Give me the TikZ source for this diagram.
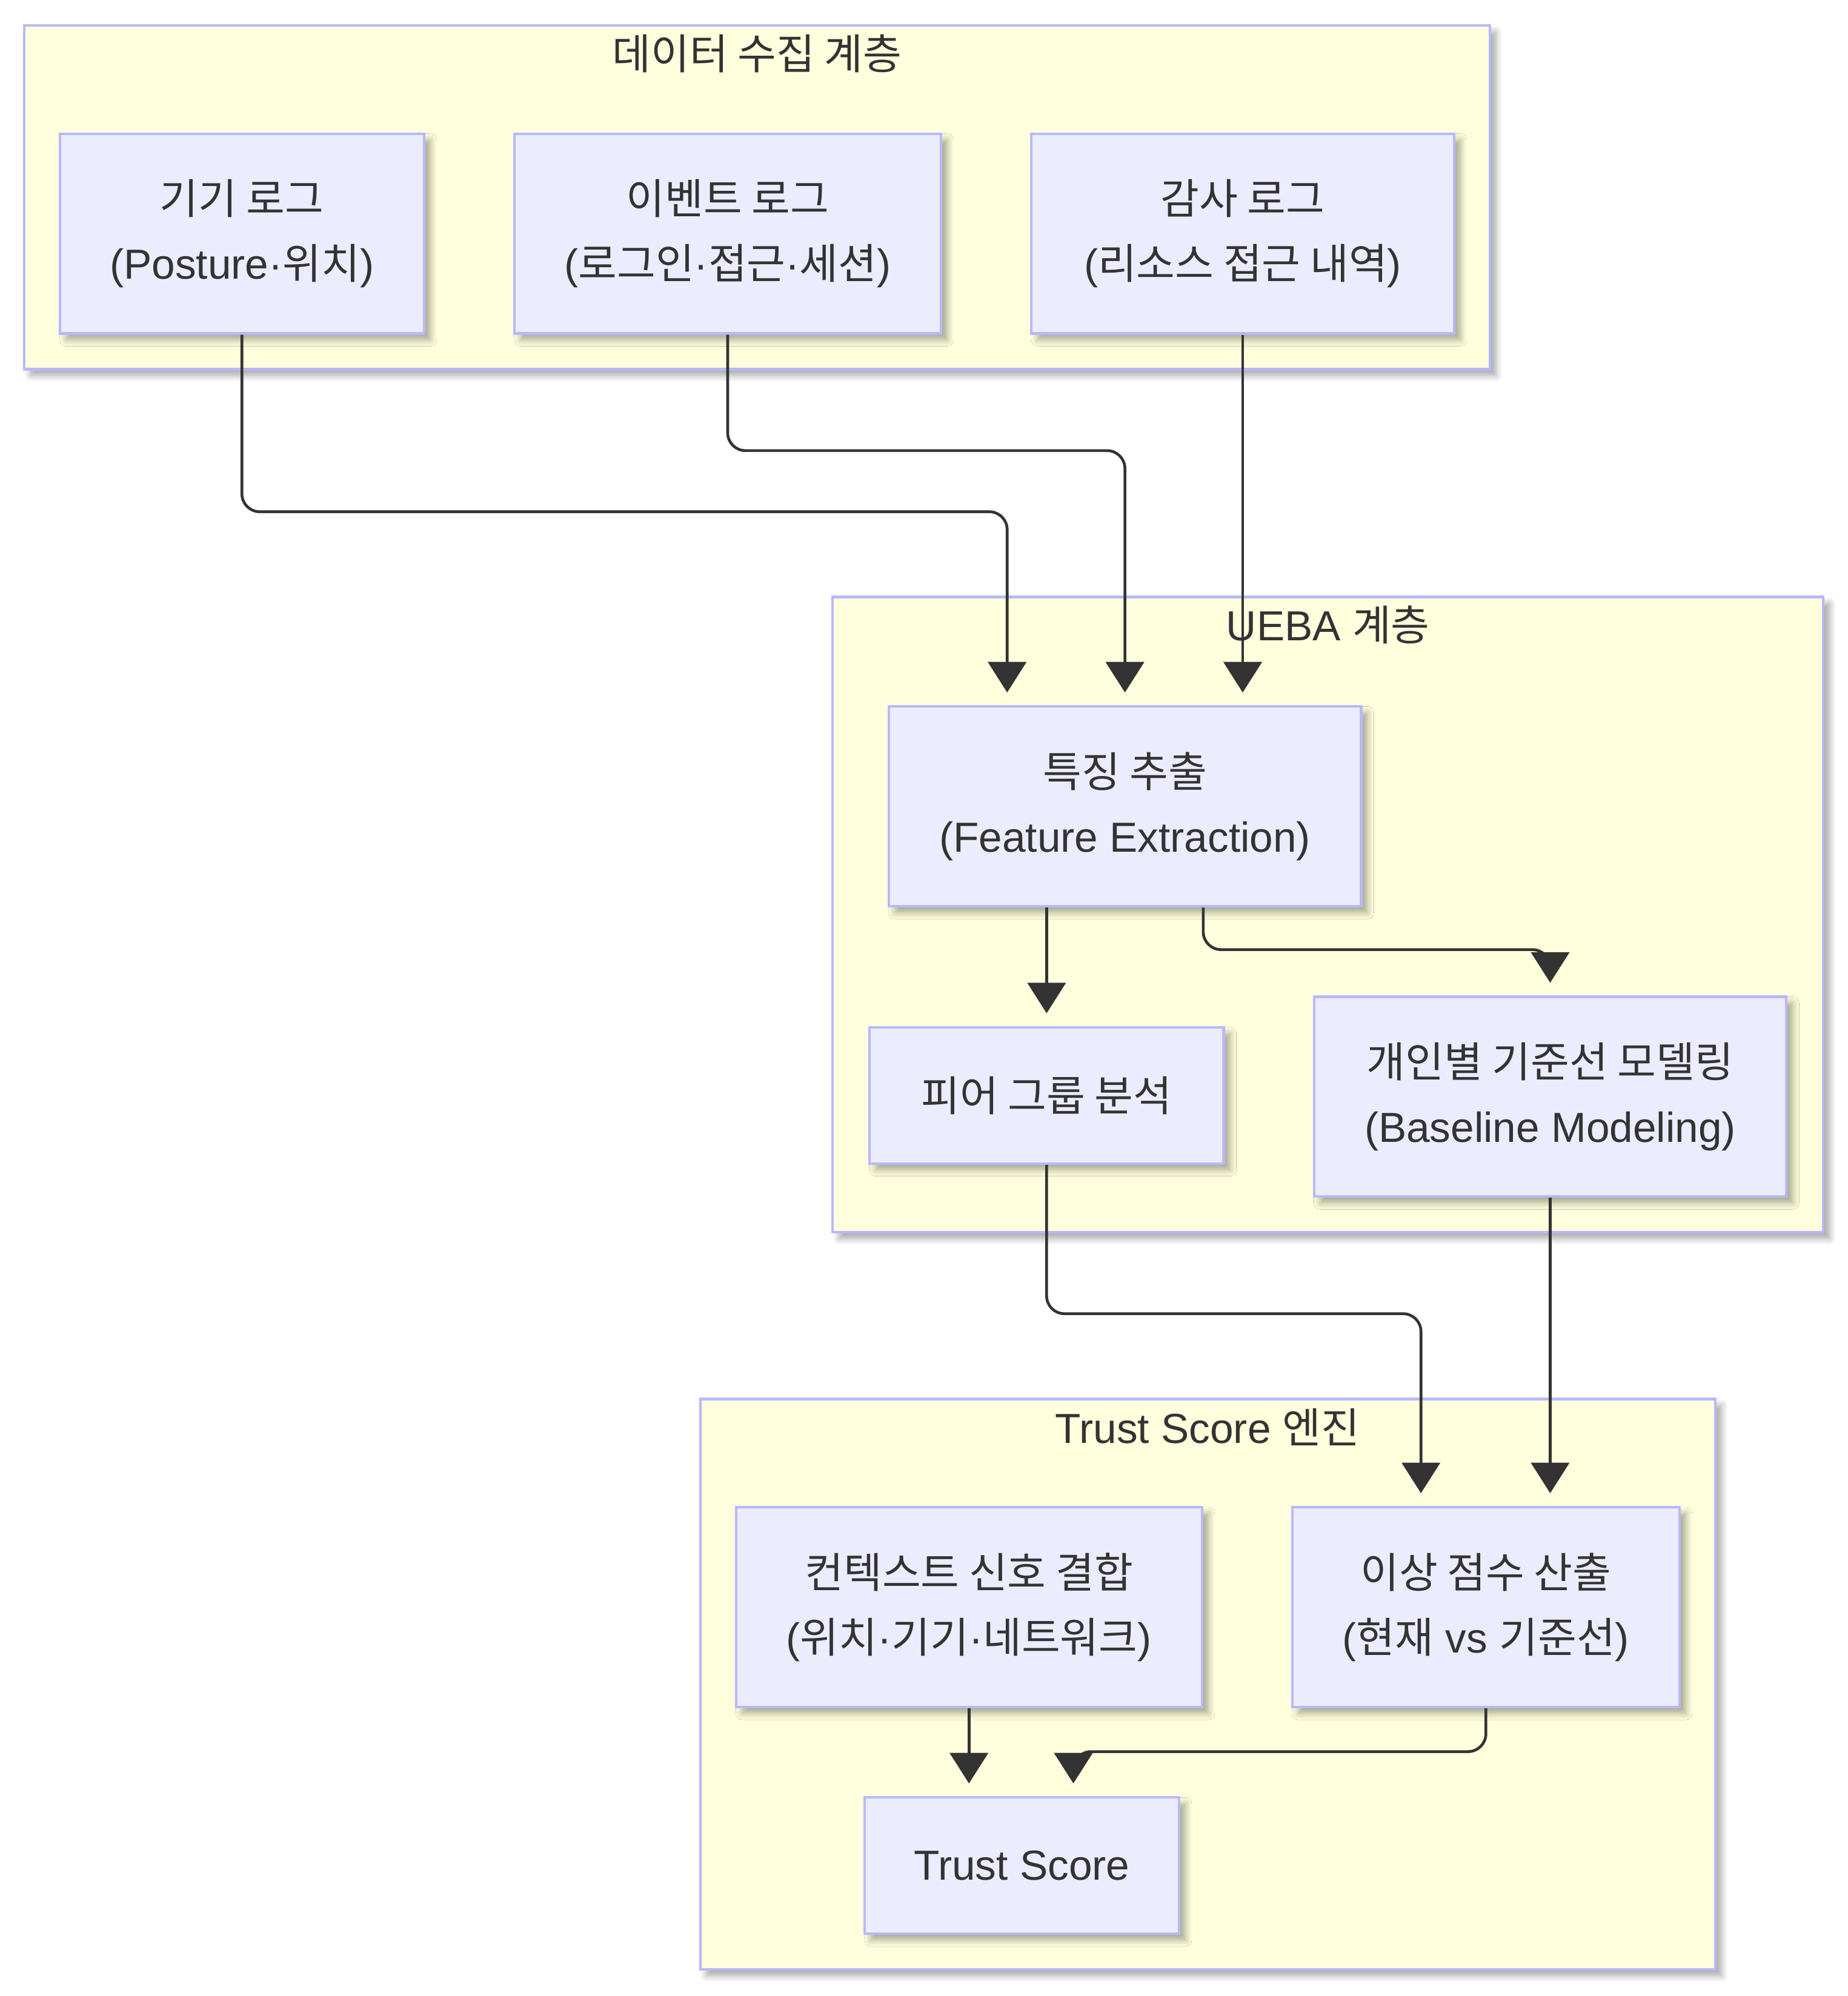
\documentclass[tikz,border=0pt]{standalone}
\usepackage{fontspec}
\setmainfont{Liberation Sans}
\newfontfamily\krfont{Noto Sans CJK KR}
\newcommand\ko[1]{{\krfont #1}}
\usetikzlibrary{arrows.meta,calc,shadows.blur}
\definecolor{ink}{HTML}{333333}
\definecolor{boxfill}{HTML}{ECECFF}
\definecolor{boxline}{HTML}{B8B8FF}
\definecolor{grpfill}{HTML}{FFFFDE}

\begin{document}
\begin{tikzpicture}[x=1pt, y=-1pt,
  font=\fontsize{33}{51}\selectfont, text=ink,
  shade/.style={blur shadow={shadow xshift=5pt, shadow yshift=-5pt, shadow blur radius=5pt, shadow blur steps=8, shadow opacity=35}},
  grp/.style={draw=boxline, fill=grpfill, line width=2pt, inner sep=0pt, shade},
  box/.style={draw=boxline, fill=boxfill, line width=2pt, align=center, inner sep=0pt, minimum height=157pt, shade},
  flow/.style={draw=ink, line width=2.2pt, rounded corners=14pt, -{Triangle[width=30pt,length=24pt]}, shorten >=10pt}]
\useasboundingbox (0,0) rectangle (1451,1568);

% groups
\node[grp, minimum width=1151pt, minimum height=270pt] (g1) at (594.5,155) {};
\node[grp, minimum width=778pt, minimum height=499pt] (g2) at (1043,718.5) {};
\node[grp, minimum width=797pt, minimum height=448pt] (g3) at (948.5,1323) {};
\node (t1) at ($(g1.north)+(0,23)$) {\ko{데이터 수집 계층}};
\node (t2) at ($(g2.north)+(0,23)$) {UEBA \ko{계층}};
\node (t3) at ($(g3.north)+(0,23)$) {Trust Score \ko{엔진}};

% data sources
\node[box, minimum width=286pt] (dev) at (190,183.5) {\ko{기기 로그}\\(Posture·\ko{위치})};
\node[box, minimum width=335pt] (ev) at (571.5,183.5) {\ko{이벤트 로그}\\(\ko{로그인}·\ko{접근}·\ko{세션})};
\node[box, minimum width=332pt] (au) at (976,183.5) {\ko{감사 로그}\\(\ko{리소스 접근 내역})};

% UEBA
\node[box, minimum width=371pt] (fe) at (883.5,633.5) {\ko{특징 추출}\\(Feature Extraction)};
\node[box, minimum width=278pt, minimum height=107pt] (peer) at (822,860.5) {\ko{피어 그룹 분석}};
\node[box, minimum width=371pt] (base) at (1217.5,861.5) {\ko{개인별 기준선 모델링}\\(Baseline Modeling)};

% trust score engine
\node[box, minimum width=366pt] (ctx) at (761,1262.5) {\ko{컨텍스트 신호 결합}\\(\ko{위치}·\ko{기기}·\ko{네트워크})};
\node[box, minimum width=304pt] (anom) at (1167,1262.5) {\ko{이상 점수 산출}\\(\ko{현재} vs \ko{기준선})};
\node[box, minimum width=247pt, minimum height=107pt] (ts) at (802.5,1465.5) {Trust Score};

% edges
\draw[flow] (dev.south) |- ($(fe.north)+(-92.5,-152)$) -- ($(fe.north)+(-92.5,0)$);
\draw[flow] (ev.south) |- ($(fe.north)+(0,-200)$) -- (fe.north);
\draw[flow] (au.south) -- (au.south |- fe.north);
\draw[flow] (peer.north |- fe.south) -- (peer.north);
\draw[flow] ($(fe.south)+(61.5,0)$) |- ($(base.north)+(0,-36)$) -- (base.north);
\draw[flow] (peer.south) |- ($(anom.north)+(-51,-151)$) -- ($(anom.north)+(-51,0)$);
\draw[flow] (base.south) -- (base.south |- anom.north);
\draw[flow] (ctx.south) -- (ctx.south |- ts.north);
\draw[flow] (anom.south) |- ($(ts.north)+(40.5,-35)$) -- ($(ts.north)+(40.5,0)$);
\end{tikzpicture}
\end{document}
